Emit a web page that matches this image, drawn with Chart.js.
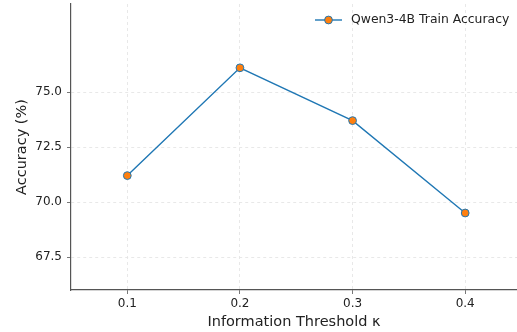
<!DOCTYPE html>
<html><head><meta charset="utf-8">
<script src="https://cdn.jsdelivr.net/npm/chart.js@4.4.1/dist/chart.umd.min.js"></script>
<style>html,body{margin:0;padding:0;background:#fff;overflow:hidden}#wrap{width:517px;height:332px}</style>
</head><body><div id="wrap"><canvas id="c" width="517" height="332"></canvas></div>
<script>
const thresholds = [0.1, 0.2, 0.3, 0.4];
const accuracy = [71.2, 76.1, 73.7, 69.5];
const xTickLabels = ['0.1', '0.2', '0.3', '0.4'];
const yTickValues = [67.5, 70.0, 72.5, 75.0];
const seriesLabel = 'Qwen3-4B Train Accuracy';
const xTitle = 'Information Threshold κ';
const yTitle = 'Accuracy (%)';

const FONT = 'DejaVu Sans';
const BLUE = '#1f77b4', ORANGE = '#ff7f0e';

// let the axes reach the canvas edge, like the matplotlib figure (markers may overflow)
Chart.LineController.prototype.getMaxOverflow = function () { return 0; };

const legendPlugin = {
  id: 'mplLegend',
  afterDraw(chart) {
    const ctx = chart.ctx;
    const ds = chart.data.datasets[0];
    const y = 20, x0 = 315, x1 = 342;
    ctx.save();
    ctx.strokeStyle = ds.borderColor; ctx.lineWidth = ds.borderWidth;
    ctx.beginPath(); ctx.moveTo(x0, y); ctx.lineTo(x1, y); ctx.stroke();
    ctx.beginPath(); ctx.arc((x0 + x1) / 2, y, ds.pointRadius, 0, Math.PI * 2);
    ctx.fillStyle = ds.pointBackgroundColor; ctx.fill();
    ctx.lineWidth = ds.pointBorderWidth; ctx.strokeStyle = ds.pointBorderColor; ctx.stroke();
    ctx.fillStyle = '#222'; ctx.font = '12.4px "' + FONT + '"';
    ctx.textBaseline = 'middle'; ctx.textAlign = 'left';
    ctx.fillText(ds.label, 351, y);
    ctx.restore();
  }
};

function noPad(s) { s.paddingTop = 0; s.paddingBottom = 0; s.paddingLeft = 0; s.paddingRight = 0; }

new Chart(document.getElementById('c'), {
  type: 'line',
  data: {
    datasets: [{
      label: seriesLabel,
      data: thresholds.map((t, i) => ({x: t, y: accuracy[i]})),
      borderColor: BLUE, borderWidth: 1.4,
      pointBackgroundColor: ORANGE, pointBorderColor: BLUE,
      pointBorderWidth: 1, pointRadius: 3.9, tension: 0, clip: false
    }]
  },
  options: {
    responsive: false, animation: false,
    layout: {padding: {top: 4, right: 0, left: 0, bottom: 0}},
    plugins: {legend: {display: false}, tooltip: {enabled: false}},
    scales: {
      x: {
        type: 'linear', min: 0.05, max: 0.446,
        afterBuildTicks(s) { s.ticks = thresholds.map(v => ({value: v})); },
        afterFit(s) { s.height = 42; noPad(s); },
        ticks: {
          callback: (v) => { const i = thresholds.indexOf(v); return i >= 0 ? xTickLabels[i] : ''; },
          font: {family: FONT, size: 12}, color: '#222', padding: 3, maxRotation: 0, autoSkip: false
        },
        grid: {color: '#e3e3e3', tickColor: '#555', tickLength: 4, tickBorderDash: [], lineWidth: 0.8},
        border: {color: '#555', width: 1.2, dash: [3, 3]},
        title: {display: true, text: xTitle, font: {family: FONT, size: 14.5, lineHeight: 1}, color: '#222', padding: {top: 0, bottom: 3}}
      },
      y: {
        type: 'linear', min: 66, max: 79,
        afterBuildTicks(s) { s.ticks = yTickValues.map(v => ({value: v})); },
        afterFit(s) { s.width = 71; noPad(s); },
        ticks: {
          callback: (v) => v.toFixed(1),
          font: {family: FONT, size: 12}, color: '#222', padding: 5
        },
        grid: {color: '#e3e3e3', tickColor: '#555', tickLength: 4, tickBorderDash: [], lineWidth: 0.8},
        border: {color: '#555', width: 1.2, dash: [3, 3]},
        title: {display: true, text: yTitle, font: {family: FONT, size: 14.5, lineHeight: 1}, color: '#222', padding: {top: 15, bottom: 0}}
      }
    }
  },
  plugins: [legendPlugin]
});
</script></body></html>
